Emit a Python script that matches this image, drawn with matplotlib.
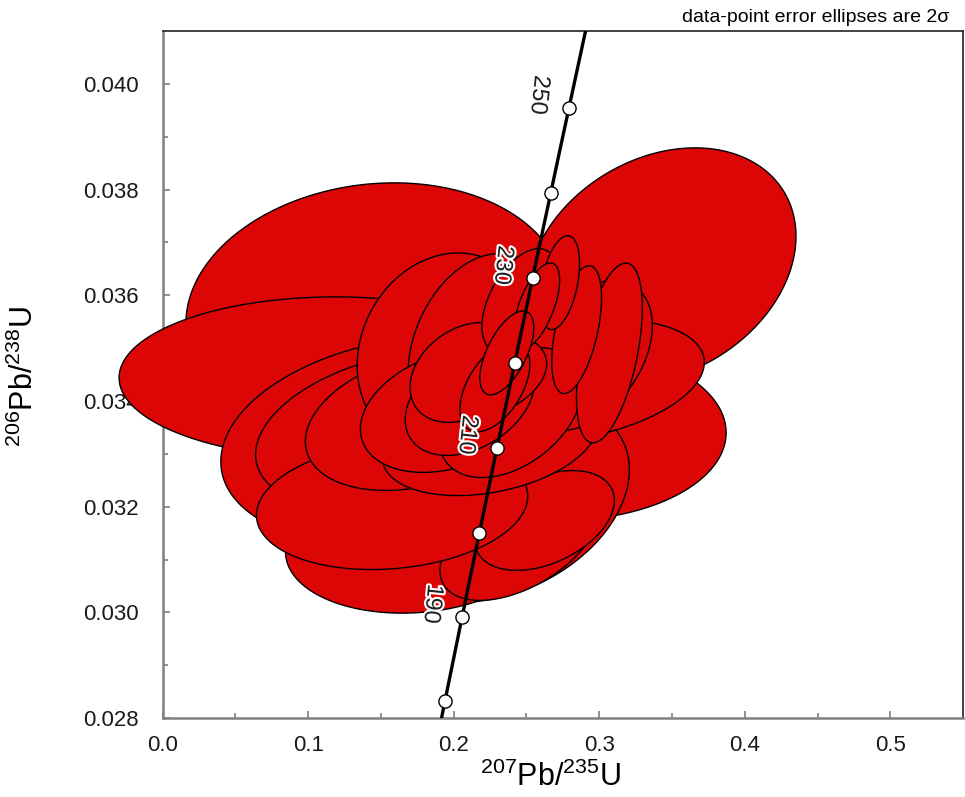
import numpy as np
import matplotlib
matplotlib.use("Agg")
import matplotlib.pyplot as plt
import matplotlib.patheffects as pe

plt.rcParams['font.family'] = ['Liberation Sans', 'DejaVu Sans']
plt.rcParams['mathtext.fontset'] = 'custom'
plt.rcParams['mathtext.rm'] = 'Liberation Sans'
plt.rcParams['mathtext.it'] = 'Liberation Sans:italic'

# analyses in drawing order (back to front):
# 207Pb/235U, 206Pb/238U, 2-sigma half widths and error correlation
ell_x = [0.1461, 0.1187, 0.3427, 0.1701, 0.2728, 0.2317, 0.1632, 0.1735, 0.2797,
         0.2454, 0.2625, 0.1577, 0.1769, 0.1940, 0.2249, 0.2166, 0.1975, 0.2920,
         0.2392, 0.2112, 0.2194, 0.2077, 0.3070, 0.2454, 0.2283, 0.2845, 0.2728,
         0.2570, 0.2365]
ell_y = [0.03571, 0.03444, 0.03656, 0.03325, 0.03340, 0.03212, 0.03344, 0.03127, 0.03438,
         0.03136, 0.03174, 0.03202, 0.03363, 0.03495, 0.03325, 0.03505, 0.03382, 0.03486,
         0.03378, 0.03401, 0.03446, 0.03454, 0.03491, 0.03590, 0.03427, 0.03535, 0.03624,
         0.03580, 0.03491]
ell_ex = [0.1301, 0.1486, 0.0925, 0.1301, 0.1144, 0.0890, 0.0993, 0.0890, 0.0925,
          0.0548, 0.0479, 0.0932, 0.0788, 0.0603, 0.0740, 0.0479, 0.0616, 0.0445,
          0.0493, 0.0445, 0.0445, 0.0377, 0.0226, 0.0260, 0.0240, 0.0171, 0.0137,
          0.0158, 0.0185]
ell_ey = [0.002418, 0.001530, 0.002230, 0.001983, 0.001662, 0.001927, 0.001511, 0.001284, 0.001171,
          0.001133, 0.000944, 0.001209, 0.001322, 0.001851, 0.001039, 0.001738, 0.001171, 0.001417,
          0.001228, 0.001039, 0.000812, 0.000944, 0.001700, 0.000982, 0.000850, 0.001209, 0.000888,
          0.000812, 0.000793]
ell_rho = [0.10, 0.00, 0.25, 0.20, 0.00, 0.30, 0.30, 0.10, 0.30,
           0.50, 0.40, 0.15, 0.30, 0.15, 0.30, 0.30, 0.30, 0.40,
           0.40, 0.35, 0.30, 0.30, 0.50, 0.50, 0.50, 0.50, 0.40,
           0.60, 0.60]

tick_ages = [180, 190, 200, 210, 220, 230, 240, 250]
label_ages = [190, 210, 230, 250]

L238 = 1.55125e-10
L235 = 9.8485e-10

fig = plt.figure(figsize=(9.65, 7.97), dpi=100)
ax = fig.add_axes([0.1685, 0.099, 0.8295, 0.862])
ax.set_xlim(0, 0.55)
ax.set_ylim(0.028, 0.041)

t = np.linspace(0, 2 * np.pi, 300)
for i in range(len(ell_x)):
    r = ell_rho[i]
    xs = ell_x[i] + ell_ex[i] * np.cos(t)
    ys = ell_y[i] + ell_ey[i] * (r * np.cos(t) + np.sqrt(1 - r ** 2) * np.sin(t))
    ax.fill(xs, ys, facecolor='#dd0606', edgecolor='black', lw=1.0,
            zorder=2.6, clip_on=False)

# concordia
ages = np.linspace(170, 275, 400) * 1e6
ax.plot(np.exp(L235 * ages) - 1, np.exp(L238 * ages) - 1, color='black', lw=2.4, zorder=3)
ta = np.array(tick_ages) * 1e6
ax.plot(np.exp(L235 * ta) - 1, np.exp(L238 * ta) - 1, 'o', ms=9.5, mfc='white',
        mec='black', mew=1.0, zorder=3.2, clip_on=False)
for a in label_ages:
    px = np.exp(L235 * a * 1e6) - 1
    py = np.exp(L238 * a * 1e6) - 1
    ax.annotate(str(a), (px, py), xytext=(-21.5, 9.5), textcoords='offset points',
                ha='center', va='center', rotation=-96, fontsize=17, color='#222222',
                zorder=4, path_effects=[pe.withStroke(linewidth=3, foreground='white')])

ax.set_xticks([0.0, 0.1, 0.2, 0.3, 0.4, 0.5])
ax.set_xticklabels(['0.0', '0.1', '0.2', '0.3', '0.4', '0.5'])
ax.set_xticks(np.arange(0.05, 0.55, 0.1), minor=True)
ax.set_yticks(np.arange(0.028, 0.0405, 0.002))
ax.set_yticklabels(['%.3f' % v for v in np.arange(0.028, 0.0405, 0.002)])
ax.set_yticks(np.arange(0.029, 0.041, 0.002), minor=True)

ax.tick_params(axis='both', which='both', direction='in', color='#808080', width=1.2,
               top=False, right=False, labelsize=16, labelcolor='#1a1a1a')
ax.tick_params(axis='both', which='major', length=5)
ax.tick_params(axis='both', which='minor', length=3.6)
ax.tick_params(axis='x', which='major', pad=12)
ax.tick_params(axis='y', which='major', pad=17)

for s in ['left', 'bottom']:
    ax.spines[s].set_color('#808080')
    ax.spines[s].set_linewidth(1.8)
for s in ['top', 'right']:
    ax.spines[s].set_color('#222222')
    ax.spines[s].set_linewidth(1.2)

ax.set_xlabel(r'$^{207}$Pb/$^{235}$U', fontsize=22)
ax.set_ylabel(r'$^{206}$Pb/$^{238}$U', fontsize=22)
ax.xaxis.set_label_coords(0.485, -0.063)
ax.yaxis.set_label_coords(-0.153, 0.497)

fig.text(0.984, 0.972, 'data-point error ellipses are 2σ', ha='right', va='baseline',
         fontsize=14)

fig.savefig('out.png', dpi=100)
